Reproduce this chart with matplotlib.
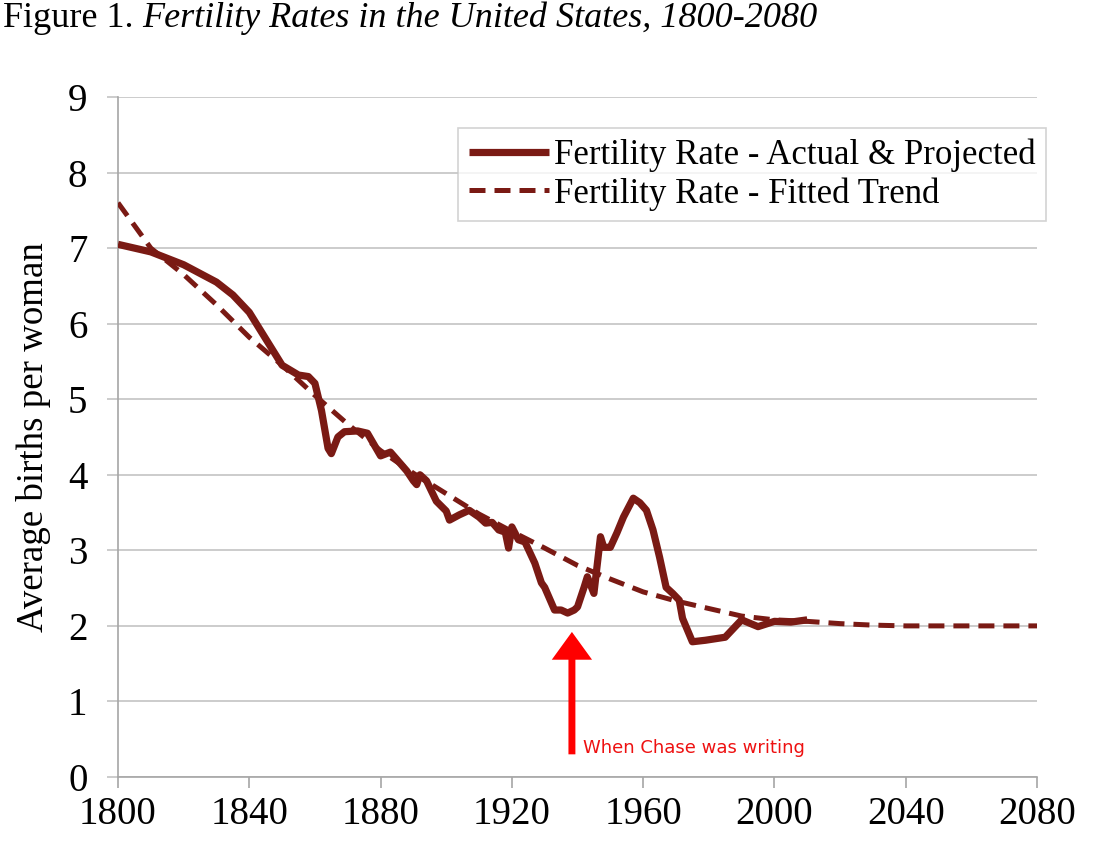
import matplotlib
matplotlib.use("Agg")
import matplotlib.pyplot as plt

# ---- data ----
actual_years = [1800, 1810, 1820, 1830, 1835, 1840, 1845, 1850, 1855, 1858, 1860, 1862,
                1864, 1865, 1867, 1869, 1873, 1876, 1878, 1880, 1883, 1885, 1888, 1890,
                1891, 1892, 1894, 1897, 1900, 1901, 1904, 1907, 1910, 1912, 1914, 1916,
                1918, 1919, 1920, 1922, 1924, 1927, 1929, 1930, 1933, 1935, 1937, 1939,
                1940, 1942, 1943, 1945, 1947, 1948, 1950, 1952, 1954, 1957, 1959, 1961,
                1963, 1965, 1967, 1969, 1971, 1972, 1975, 1979, 1985, 1990, 1995, 2000,
                2005, 2010]
actual_vals = [7.05, 6.95, 6.78, 6.55, 6.38, 6.15, 5.80, 5.45, 5.32, 5.30, 5.21, 4.85,
               4.35, 4.28, 4.50, 4.57, 4.58, 4.55, 4.40, 4.25, 4.30, 4.20, 4.05, 3.92,
               3.87, 4.00, 3.92, 3.65, 3.52, 3.40, 3.47, 3.53, 3.44, 3.36, 3.37, 3.27,
               3.24, 3.03, 3.31, 3.14, 3.11, 2.83, 2.57, 2.51, 2.21, 2.21, 2.17, 2.21,
               2.25, 2.51, 2.65, 2.43, 3.18, 3.04, 3.04, 3.23, 3.44, 3.69, 3.63, 3.53,
               3.27, 2.91, 2.51, 2.43, 2.34, 2.10, 1.79, 1.81, 1.85, 2.08, 1.99, 2.06,
               2.05, 2.08]

trend_years = [1800, 1805, 1810, 1820, 1830, 1840, 1850, 1860, 1870, 1880, 1890, 1900,
               1910, 1920, 1930, 1940, 1950, 1960, 1970, 1980, 1990, 2000, 2010, 2020,
               2030, 2040, 2060, 2080]
trend_vals = [7.60, 7.30, 7.00, 6.65, 6.25, 5.82, 5.45, 5.05, 4.67, 4.32, 4.02, 3.75,
              3.48, 3.25, 3.03, 2.80, 2.62, 2.45, 2.33, 2.23, 2.13, 2.08, 2.06, 2.03,
              2.01, 2.00, 2.00, 2.00]

x_ticks = [1800, 1840, 1880, 1920, 1960, 2000, 2040, 2080]
y_ticks = [0, 1, 2, 3, 4, 5, 6, 7, 8, 9]

label_actual = "Fertility Rate - Actual & Projected"
label_trend = "Fertility Rate - Fitted Trend"
annot_year = 1938.3
annot_text = "When Chase was writing"

# ---- style ----
serif = ["Liberation Serif", "DejaVu Serif"]
color = "#7a1a14"

fig = plt.figure(figsize=(10.95, 8.65), dpi=100)
ax = fig.add_axes([118 / 1095, 1 - 777 / 865, 919 / 1095, (777 - 97) / 865])

ax.plot(actual_years, actual_vals, color=color, lw=5.2, solid_joinstyle="round",
        solid_capstyle="butt", label=label_actual, zorder=3)
ax.plot(trend_years, trend_vals, color=color, lw=3.6, dashes=(3.2, 1.8),
        label=label_trend, zorder=3)

ax.set_xlim(1800, 2080)
ax.set_ylim(0, 9)
ax.set_xticks(x_ticks)
ax.set_yticks(y_ticks)
ax.grid(axis="y", color="#c4c4c4", lw=1.2)
ax.set_axisbelow(True)
for s in ["top", "right"]:
    ax.spines[s].set_visible(False)
for s in ["left", "bottom"]:
    ax.spines[s].set_color("#a6a6a6")
    ax.spines[s].set_linewidth(1.2)
ax.tick_params(axis="x", direction="out", length=8, width=1.2, color="#a6a6a6", pad=6)
ax.tick_params(axis="y", direction="out", length=8, width=1.2, color="#c4c4c4", pad=14)
for lab in ax.get_xticklabels() + ax.get_yticklabels():
    lab.set_fontfamily(serif)
    lab.set_fontsize(28)

ax.set_ylabel("Average births per woman", fontfamily=serif, fontsize=26.6)
ax.yaxis.set_label_coords(-0.073, 0.5)

leg = ax.legend(loc="upper right", bbox_to_anchor=(1046 / 1095, 1 - 128 / 865),
                bbox_transform=fig.transFigure, prop={"family": serif, "size": 25},
                handlelength=2.3, handletextpad=0.15, borderpad=0.3, labelspacing=0.15,
                borderaxespad=0, frameon=True, fancybox=False)
leg.get_frame().set_edgecolor("#c8c8c8")
leg.get_frame().set_linewidth(1.2)

# arrow annotation
ax.annotate("", xy=(annot_year, 1.92), xytext=(annot_year, 0.30),
            arrowprops=dict(arrowstyle="simple,head_length=2.0,head_width=2.9,tail_width=0.5",
                            color="#ff0000", lw=0, shrinkA=0, shrinkB=0,
                            mutation_scale=10))
ax.text(annot_year + 3.4, 0.32, annot_text, color="#ee1111", fontsize=13,
        fontfamily="DejaVu Sans", va="baseline", ha="left")

# title: regular + italic
t1 = fig.text(3 / 1095, 1 - 27 / 865, "Figure 1. ", fontfamily=serif, fontsize=26,
              va="baseline", ha="left")
fig.canvas.draw()
r = fig.canvas.get_renderer()
bb = t1.get_window_extent(r)
fig.text(bb.x1 / (fig.dpi * 10.95), 1 - 27 / 865,
         "Fertility Rates in the United States, 1800-2080", fontfamily=serif,
         fontstyle="italic", fontsize=26, va="baseline", ha="left")

fig.savefig("out.png", dpi=100)
